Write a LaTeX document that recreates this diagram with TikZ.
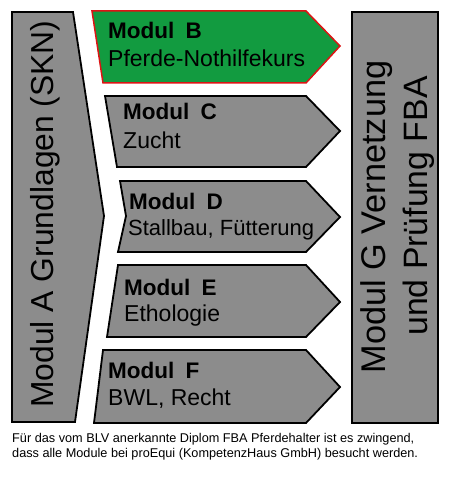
\documentclass[tikz,border=0pt]{standalone}
\usepackage{fontspec}
\setmainfont{Liberation Sans}
\definecolor{modgray}{RGB}{140,140,140}
\definecolor{modgreen}{RGB}{18,155,64}
\definecolor{modred}{RGB}{220,20,20}
\tikzset{
  modbox/.style={fill=modgray, draw=black, line width=1.8pt, line join=miter},
  activebox/.style={fill=modgreen, draw=modred, line width=1.5pt, line join=miter},
  modtitle/.style={anchor=base west, inner sep=0pt, font=\fontsize{22.5}{26}\selectfont\bfseries},
  modsub/.style={anchor=base west, inner sep=0pt, font=\fontsize{23}{26}\selectfont},
  bigtext/.style={anchor=base, inner sep=0pt, rotate=90},
  caption/.style={anchor=base west, inner sep=0pt, font=\fontsize{12.7}{14}\selectfont}
}
\begin{document}
\begin{tikzpicture}[x=1pt,y=-1pt]
\useasboundingbox (0,0) rectangle (450,500);
% Modul A
\draw[modbox] (12,12) -- (73,12) -- (104,216) -- (75,422) -- (12,422) -- cycle;
\node[bigtext, font=\fontsize{31.8}{36}\selectfont] (ta) at (53,214) {Modul A Grundlagen (SKN)};
% Modul B
\draw[activebox] (92,11) -- (306,11) -- (340,46) -- (306,83) -- (103,83) -- cycle;
\node[modtitle] (tb) at (108,39) {Modul\hspace{0.5em}B};
\node[modsub] (sb) at (108,67) {Pferde-Nothilfekurs};
% Modul C
\draw[modbox] (105,96) -- (306,96) -- (340,131) -- (306,167) -- (117,167) -- cycle;
\node[modtitle] (tc) at (123,120) {Modul\hspace{0.5em}C};
\node[modsub] (sc) at (123,148) {Zucht};
% Modul D
\draw[modbox] (120,181) -- (306,181) -- (340,217) -- (306,252) -- (118,252) -- (126,216) -- cycle;
\node[modtitle] (td) at (129,209) {Modul\hspace{0.5em}D};
\node[modsub, font=\fontsize{22}{26}\selectfont] (sd) at (128,235) {Stallbau, Fütterung};
% Modul E
\draw[modbox] (118,265) -- (306,265) -- (340,302) -- (306,337) -- (107,337) -- cycle;
\node[modtitle] (te) at (124,295) {Modul\hspace{0.5em}E};
\node[modsub] (se) at (124,321) {Ethologie};
% Modul F
\draw[modbox] (103,350) -- (306,350) -- (340,387) -- (306,423) -- (94,423) -- cycle;
\node[modtitle] (tf) at (108,378) {Modul\hspace{0.5em}F};
\node[modsub] (sf) at (108,405) {BWL, Recht};
% Modul G
\draw[modbox] (352,12) rectangle (438,423);
\node[bigtext, font=\fontsize{34.3}{38}\selectfont] (tg1) at (385,217) {Modul G Vernetzung};
\node[bigtext, font=\fontsize{33.8}{38}\selectfont] (tg2) at (427,206) {und Prüfung FBA};
% caption
\node[caption] (c1) at (12,442) {Für das vom BLV anerkannte Diplom FBA Pferdehalter ist es zwingend,};
\node[caption] (c2) at (12,457) {dass alle Module bei proEqui (KompetenzHaus GmbH) besucht werden.};
\end{tikzpicture}
\end{document}
